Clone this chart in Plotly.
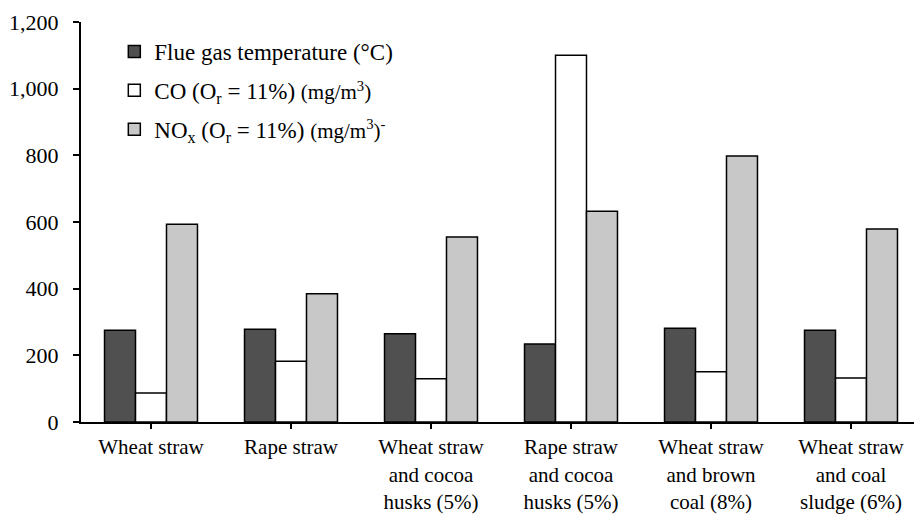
import plotly.graph_objects as go

categories = ["Wheat straw", "Rape straw", "Wheat straw<br>and cocoa<br>husks (5%)",
              "Rape straw<br>and cocoa<br>husks (5%)", "Wheat straw<br>and brown<br>coal (8%)",
              "Wheat straw<br>and coal<br>sludge (6%)"]
flue_gas_temp = [275, 278, 265, 234, 281, 275]
co_values = [87, 182, 130, 1100, 151, 132]
nox_values = [593, 385, 555, 632, 798, 579]
y_tick_vals = [0, 200, 400, 600, 800, 1000, 1200]
y_tick_text = ["0", "200", "400", "600", "800", "1,000", "1,200"]

names = ["Flue gas temperature (°C)",
         "CO (O<sub>r</sub> = 11%) <span style='font-size:21px'>(mg/m<sup>3</sup>)</span>",
         "NO<sub>x</sub> (O<sub>r</sub> = 11%) <span style='font-size:21px'>(mg/m<sup>3</sup>)<sup>-</sup></span>"]
colors = ["#505050", "#ffffff", "#c8c8c8"]
series = [flue_gas_temp, co_values, nox_values]

FONT = "Liberation Serif"
fig = go.Figure()
for i, (nm, col, vals) in enumerate(zip(names, colors, series)):
    fig.add_trace(go.Bar(x=list(range(len(categories))), y=vals, name=nm,
                         marker=dict(color=col, line=dict(color="black", width=1.5)),
                         legendgroup=f"g{i}"))

fig.update_layout(
    width=914, height=515,
    margin=dict(l=81, r=0, t=22, b=93),
    paper_bgcolor="white", plot_bgcolor="white",
    barmode="group", bargap=0.336, bargroupgap=0,
    font=dict(family=FONT, size=22, color="black"),
    showlegend=True,
    legend=dict(x=0.04, y=0.98, xanchor="left", yanchor="top",
                bgcolor="rgba(0,0,0,0)", traceorder="grouped", tracegroupgap=6,
                font=dict(family=FONT, size=23), itemwidth=30),
    xaxis=dict(range=[-0.5, 5.45], tickmode="array",
               tickvals=list(range(len(categories))), ticktext=categories,
               tickson="boundaries", ticks="outside", ticklen=5, tickwidth=1.5,
               tickcolor="black", showline=True, linecolor="black", linewidth=2,
               showgrid=False, zeroline=False, tickfont=dict(size=21),
               ticklabelstandoff=0, automargin=False),
    yaxis=dict(range=[0, 1200], tickvals=y_tick_vals, ticktext=y_tick_text,
               ticks="outside", ticklen=6, tickwidth=1.5, tickcolor="black",
               showline=True, linecolor="black", linewidth=2, showgrid=False,
               zeroline=False, tickfont=dict(size=22), ticklabelstandoff=10,
               automargin=False),
)
fig.write_html("out.html", config={"displayModeBar": False},
               post_script="document.body.style.margin='0';document.body.style.overflow='hidden';")
